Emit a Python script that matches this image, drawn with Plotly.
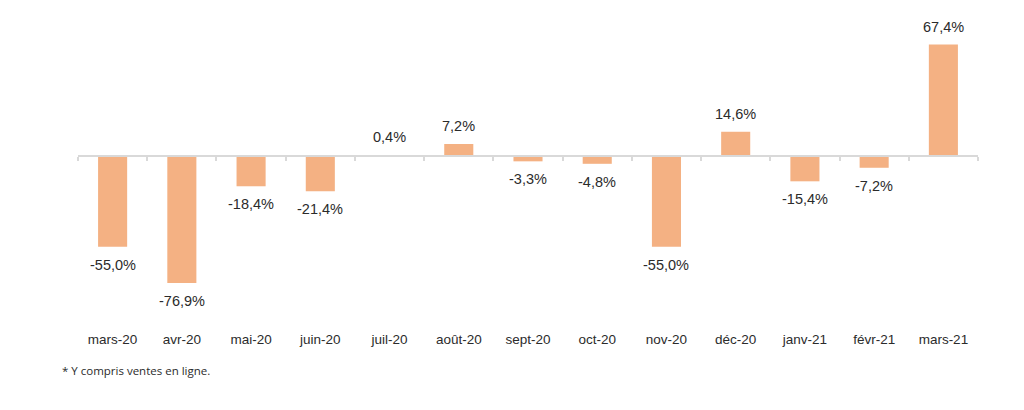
import plotly.graph_objects as go

categories = ["mars-20", "avr-20", "mai-20", "juin-20", "juil-20", "août-20", "sept-20",
              "oct-20", "nov-20", "déc-20", "janv-21", "févr-21", "mars-21"]
values = [-55.0, -76.9, -18.4, -21.4, 0.4, 7.2, -3.3, -4.8, -55.0, 14.6, -15.4, -7.2, 67.4]
footnote = "* Y compris ventes en ligne."

labels = [f"{v:.1f}%".replace(".", ",") for v in values]

ymin, ymax = -103, 75
font_main = "Liberation Sans, Arial, sans-serif"

fig = go.Figure()
fig.add_trace(go.Bar(
    x=categories, y=values,
    marker=dict(color="#F4B183", line=dict(width=0)),
    width=0.42, showlegend=False,
))
fig.add_trace(go.Scatter(
    x=categories, y=[0] * len(categories), xaxis="x2", mode="markers",
    marker=dict(opacity=0), hoverinfo="skip", showlegend=False,
))

annotations = [dict(x=c, y=v, text=t, showarrow=False, xanchor="center", yanchor="middle",
                    yshift=18 if v >= 0 else -18,
                    font=dict(family=font_main, size=14.5, color="#2b2b2b"))
               for c, v, t in zip(categories, values, labels)]
annotations.append(dict(text=footnote, xref="paper", yref="paper", x=-0.02, y=-0.15,
                        xanchor="left", yanchor="middle", showarrow=False,
                        font=dict(family="Open Sans, sans-serif", size=11.5, color="#2b2b2b")))

fig.update_layout(
    width=1024, height=410,
    margin=dict(l=70, r=54, t=24, b=92),
    plot_bgcolor="white", paper_bgcolor="white",
    xaxis=dict(type="category", categoryarray=categories, range=[-0.5, 12.5],
               showline=False, showgrid=False, ticks="", zeroline=False,
               ticklabelstandoff=3,
               tickfont=dict(family=font_main, size=13.5, color="#2b2b2b")),
    xaxis2=dict(type="category", categoryarray=categories, range=[-0.5, 12.5],
                overlaying="x", anchor="free", position=(0 - ymin) / (ymax - ymin),
                showline=True, linecolor="#D9D9D9", linewidth=1.5,
                ticks="outside", ticklen=4, tickcolor="#D9D9D9", tickwidth=1.5,
                tickson="boundaries",
                showticklabels=False, showgrid=False, zeroline=False),
    yaxis=dict(range=[ymin, ymax], visible=False, showgrid=False, zeroline=False),
    annotations=annotations,
)

fig.write_html("out.html")
